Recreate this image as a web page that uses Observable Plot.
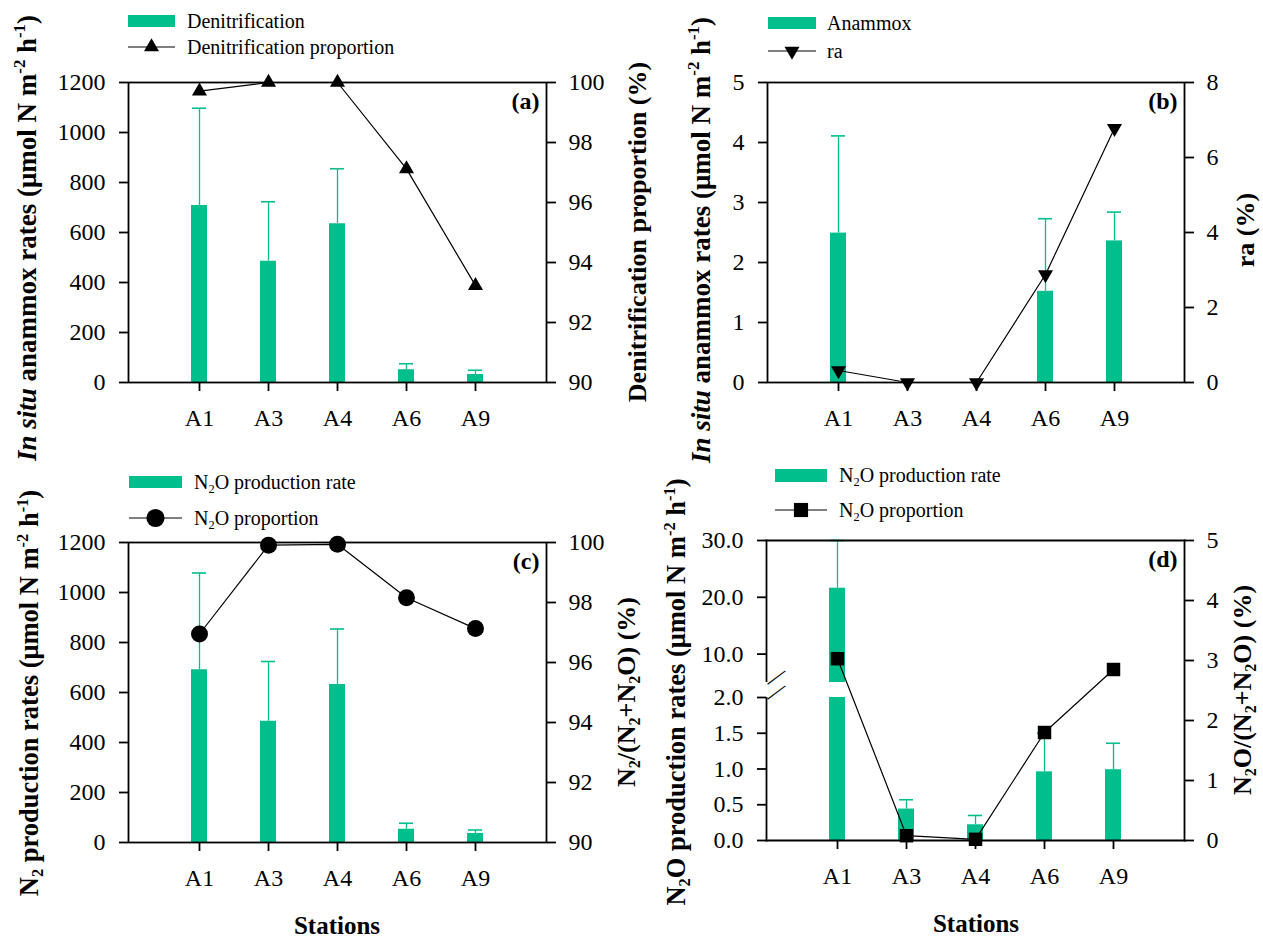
<!DOCTYPE html>
<html><head><meta charset="utf-8">
<script src="https://cdn.jsdelivr.net/npm/d3@7"></script>
<script src="https://cdn.jsdelivr.net/npm/@observablehq/plot@0.6"></script>
<style>
body{margin:0;background:#fff;}
#page{position:relative;width:1263px;height:939px;background:#fff;font-family:'Liberation Serif','Times New Roman',serif;color:#000;overflow:hidden;}
.layer{position:absolute;}
.layer svg{position:absolute;left:0;top:0;}
.rt{position:absolute;white-space:nowrap;font-weight:bold;line-height:1;transform:translate(-50%,-50%) rotate(-90deg);}
.ht{position:absolute;white-space:nowrap;font-weight:bold;line-height:1;transform:translate(-50%,-50%);}
sub{font-size:0.62em;vertical-align:-0.3em;line-height:0;}
sup{font-size:0.62em;vertical-align:0.6em;line-height:0;}
</style></head><body><div id="page"></div>
<script>
// ---------- data ----------
const stations = ["A1", "A3", "A4", "A6", "A9"];

const denitRate = [708, 485, 635, 51, 32];
const denitSD = [389, 238, 220, 24, 17];
const denitProp = [99.71, 100, 100, 97.12, 93.23];

const anammoxRate = [2.49, 0, 0, 1.52, 2.36];
const anammoxSD = [1.62, 0, 0, 1.21, 0.48];
const raProp = [0.32, 0, 0, 2.88, 6.78];

const n2Rate = [691, 485, 632, 53, 36];
const n2SD = [387, 239, 222, 24, 14];
const n2Prop = [96.95, 99.91, 99.94, 98.16, 97.13];

const n2oRate = [21.6, 0.44, 0.22, 0.96, 0.99];
const n2oSD = [8.4, 0.13, 0.13, 0.54, 0.37];
const n2oProp = [3.03, 0.08, 0.02, 1.80, 2.85];

const ticksRate = [0, 200, 400, 600, 800, 1000, 1200];
const ticksPct = [90, 92, 94, 96, 98, 100];
const ticksAnammox = [0, 1, 2, 3, 4, 5];
const ticksRa = [0, 2, 4, 6, 8];
const ticksN2O = [0, 0.5, 1.0, 1.5, 2.0, 10.0, 20.0, 30.0];
const ticksN2OProp = [0, 1, 2, 3, 4, 5];
const n2oBreakDomain = [0, 2, 5, 30];
const n2oBreakGap = [2, 5];

// ---------- style ----------
const GREEN = "#00bf8c";
const FONT = "'Liberation Serif','Times New Roman',serif";
const AX = 1.8;
const page = document.getElementById("page");

function layer(left, top, w, h) {
  const d = document.createElement("div");
  d.className = "layer";
  d.style.cssText = `left:${left}px;top:${top}px;width:${w}px;height:${h}px;`;
  page.appendChild(d);
  return d;
}

function panel(cfg) {
  const {left, top, width, height, m, rate, sd, prop, yL, yR, sym, tag, brk} = cfg;
  const rows = stations.map((s, i) => ({s, v: rate[i], sd: sd[i], p: prop[i]}));
  const errs = rows.filter(d => d.sd > 0);
  const base = {
    width, height,
    marginTop: m[0], marginRight: m[1], marginBottom: m[2], marginLeft: m[3],
    style: {fontFamily: FONT, fontSize: "24px", background: "transparent", overflow: "visible", color: "#000"}
  };
  const barMarks = [];
  if (brk) barMarks.push(Plot.frame({anchor: "left", stroke: "#000", strokeWidth: AX}));
  barMarks.push(
    Plot.barY(rows, {x: "s", y: "v", fill: GREEN}),
    Plot.ruleX(errs, {x: "s", y1: "v", y2: d => d.v + d.sd, stroke: GREEN, strokeWidth: 1.3}),
    Plot.tickY(errs, {x: "s", y: d => d.v + d.sd, stroke: GREEN, strokeWidth: 1.6, insetLeft: 1, insetRight: 1})
  );
  if (brk) {
    barMarks.push(
      Plot.rect([brk], {y1: d => d[0], y2: d => d[1], fill: "white", insetLeft: -4}),
      Plot.frame({anchor: "top", stroke: "#000", strokeWidth: AX}),
      Plot.frame({anchor: "right", stroke: "#000", strokeWidth: AX}),
      Plot.frame({anchor: "bottom", stroke: "#000", strokeWidth: AX}),
      Plot.text(brk, {y: d => d, frameAnchor: "left", text: () => "\u2014", rotate: -37, fontSize: 22})
    );
  } else {
    barMarks.push(Plot.frame({stroke: "#000", strokeWidth: AX}));
  }
  barMarks.push(
    Plot.axisY({ticks: yL.ticks, tickFormat: yL.format, tickSize: 9, tickPadding: 14, label: null, fontSize: 24, strokeWidth: AX}),
    Plot.axisX({tickSize: 9, tickPadding: 17, label: null, fontSize: 24, strokeWidth: AX})
  );
  const bars = Plot.plot({
    ...base,
    x: {type: "band", domain: stations, paddingInner: 0.77, paddingOuter: 0.885, align: 0.5, axis: null},
    y: {...yL.scale, axis: null},
    marks: barMarks
  });
  const lines = Plot.plot({
    ...base,
    x: {type: "point", domain: stations, padding: 1, axis: null},
    y: {...yR.scale, axis: null},
    marks: [
      Plot.axisY({anchor: "right", ticks: yR.ticks, tickFormat: yR.format, tickSize: 9, tickPadding: 13, label: null, fontSize: 24, strokeWidth: AX}),
      Plot.line(rows, {x: "s", y: "p", stroke: "#000", strokeWidth: 1.2}),
      Plot.dot(rows, {x: "s", y: "p", symbol: sym.symbol, r: sym.r, fill: "#000", stroke: "none", rotate: sym.rotate || 0}),
      Plot.text([tag], {frameAnchor: "top-right", text: d => d, dx: -7, dy: 9, textAnchor: "end", lineAnchor: "top", fontWeight: "bold", fontSize: 24})
    ]
  });
  const L = layer(left, top, width, height);
  L.appendChild(bars);
  L.appendChild(lines);
}

function legendRow(x, yc, w, sym, html, gap) {
  const row = document.createElement("div");
  row.style.cssText = `position:absolute;left:${x}px;top:${yc - 15}px;height:30px;display:flex;align-items:center;font-size:20px;white-space:nowrap;`;
  let s;
  if (sym.type === "bar") {
    s = `<span style="display:inline-block;width:${w}px;height:${sym.h}px;background:${GREEN}"></span>`;
  } else {
    const p = d3.symbol(sym.symbol, sym.size)();
    s = `<svg width="${w}" height="30" style="overflow:visible;display:block"><line x1="0" x2="${w}" y1="15" y2="15" stroke="#000" stroke-width="1.2"/><path d="${p}" transform="translate(${w / 2},15) rotate(${sym.rotate || 0})" fill="#000"/></svg>`;
  }
  row.innerHTML = s + `<span style="margin-left:${gap}px">${html}</span>`;
  page.appendChild(row);
}

function title(cx, cy, html, size, rotated) {
  const d = document.createElement("div");
  d.className = rotated ? "rt" : "ht";
  d.style.left = cx + "px";
  d.style.top = cy + "px";
  d.style.fontSize = size + "px";
  d.innerHTML = html;
  page.appendChild(d);
}

const fmtInt = d => String(d);
const fmt1 = d3.format(".1f");

// (a)
panel({
  left: 0, top: 0, width: 631, height: 460, m: [82, 85, 78, 128],
  rate: denitRate, sd: denitSD, prop: denitProp,
  yL: {scale: {domain: [0, 1200]}, ticks: ticksRate, format: fmtInt},
  yR: {scale: {domain: [90, 100]}, ticks: ticksPct, format: fmtInt},
  sym: {symbol: "triangle", r: 5.6}, tag: "(a)"
});
// (b)
panel({
  left: 630, top: 0, width: 633, height: 460, m: [82, 79, 78, 137],
  rate: anammoxRate, sd: anammoxSD, prop: raProp,
  yL: {scale: {domain: [0, 5]}, ticks: ticksAnammox, format: fmtInt},
  yR: {scale: {domain: [0, 8]}, ticks: ticksRa, format: fmtInt},
  sym: {symbol: "triangle", r: 5.6, rotate: 180}, tag: "(b)"
});
// (c)
panel({
  left: 0, top: 460, width: 631, height: 479, m: [82, 85, 97, 128],
  rate: n2Rate, sd: n2SD, prop: n2Prop,
  yL: {scale: {domain: [0, 1200]}, ticks: ticksRate, format: fmtInt},
  yR: {scale: {domain: [90, 100]}, ticks: ticksPct, format: fmtInt},
  sym: {symbol: "circle", r: 8.5}, tag: "(c)"
});
// (d) broken left axis
panel({
  left: 630, top: 460, width: 633, height: 479, m: [80, 79, 99, 136],
  rate: n2oRate, sd: n2oSD, prop: n2oProp,
  yL: {scale: {type: "linear", domain: n2oBreakDomain, range: [380, 237, 222, 80]}, ticks: ticksN2O, format: fmt1},
  yR: {scale: {domain: [0, 5]}, ticks: ticksN2OProp, format: fmtInt},
  sym: {symbol: "square", r: 7.6}, tag: "(d)", brk: n2oBreakGap
});

// legends
legendRow(128, 21, 47, {type: "bar", h: 12}, "Denitrification", 12);
legendRow(128, 47, 47, {type: "line", symbol: d3.symbolTriangle, size: 98}, "Denitrification proportion", 12);
legendRow(768, 23, 48, {type: "bar", h: 12}, "Anammox", 11);
legendRow(768, 51, 48, {type: "line", symbol: d3.symbolTriangle, size: 98, rotate: 180}, "ra", 11);
legendRow(129, 482, 53, {type: "bar", h: 12}, "N<sub>2</sub>O production rate", 12);
legendRow(129, 518, 53, {type: "line", symbol: d3.symbolCircle, size: 260}, "N<sub>2</sub>O proportion", 12);
legendRow(775, 475, 52, {type: "bar", h: 13}, "N<sub>2</sub>O production rate", 12);
legendRow(775, 510, 52, {type: "line", symbol: d3.symbolSquare, size: 200}, "N<sub>2</sub>O proportion", 12);

// axis titles
const rateUnit = "(&mu;mol N m<sup>-2</sup> h<sup>-1</sup>)";
title(27, 238, `<i>In situ</i> anammox rates ${rateUnit}`, 27, true);
title(638, 232, "Denitrification proportion (%)", 26, true);
title(701, 240, `<i>In situ</i> anammox rates ${rateUnit}`, 27, true);
title(1246, 230, "ra (%)", 26, true);
title(29, 693, `N<sub>2</sub> production rates ${rateUnit}`, 26.5, true);
title(627, 692, "N<sub>2</sub>/(N<sub>2</sub>+N<sub>2</sub>O) (%)", 26, true);
title(676, 692, `N<sub>2</sub>O production rates ${rateUnit}`, 26.5, true);
title(1243, 690, "N<sub>2</sub>O/(N<sub>2</sub>+N<sub>2</sub>O) (%)", 26, true);
title(337, 925, "Stations", 25, false);
title(976, 923, "Stations", 25, false);
</script>
</body></html>
